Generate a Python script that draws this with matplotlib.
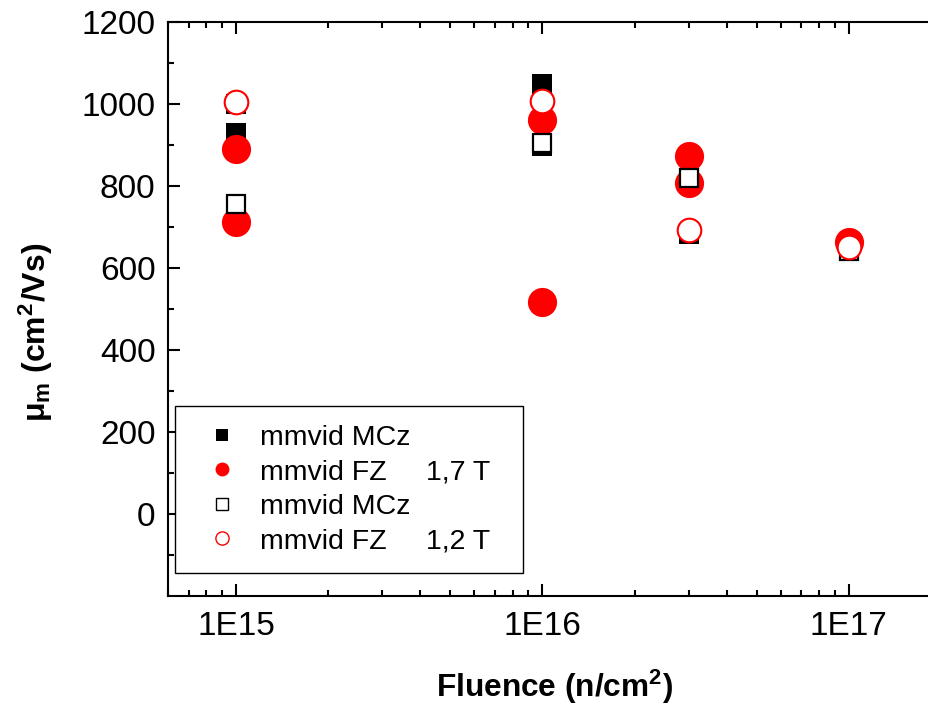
import matplotlib
matplotlib.use("Agg")
import matplotlib.pyplot as plt
from matplotlib.lines import Line2D

plt.rcParams['font.family'] = ['Liberation Sans', 'DejaVu Sans']
plt.rcParams['mathtext.fontset'] = 'custom'
plt.rcParams['mathtext.rm'] = 'Liberation Sans'
plt.rcParams['mathtext.bf'] = 'Liberation Sans:bold'
plt.rcParams['mathtext.it'] = 'Liberation Sans:italic'

# Data
mcz17_x = [1e15, 1e15, 1e16, 1e16, 3e16]
mcz17_y = [1000, 930, 1050, 898, 682]
fz17_x = [1e15, 1e15, 1e16, 1e16, 3e16, 3e16, 1e17]
fz17_y = [890, 713, 960, 518, 872, 808, 663]
mcz12_x = [1e15, 1e16, 3e16, 1e17]
mcz12_y = [757, 905, 819, 641]
fz12_x = [1e15, 1e16, 3e16, 1e17]
fz12_y = [1004, 1008, 693, 651]

labels = ["mmvid MCz", "mmvid FZ     1,7 T", "mmvid MCz", "mmvid FZ     1,2 T"]
yticks = [0, 200, 400, 600, 800, 1000, 1200]
xticks = [1e15, 1e16, 1e17]
xticklabels = ["1E15", "1E16", "1E17"]

fig = plt.figure(figsize=(9.29, 7.05), dpi=100)
ax = fig.add_axes([168/929, 1-596/705, (941-168)/929, (596-22)/705])

ax.plot(mcz17_x, mcz17_y, ls='none', marker='s', ms=15, mfc='black', mec='black', mew=0)
ax.plot(fz17_x, fz17_y, ls='none', marker='o', ms=21, mfc='red', mec='red', mew=0)
ax.plot(mcz12_x, mcz12_y, ls='none', marker='s', ms=13.5, mfc='white', mec='black', mew=1.6)
ax.plot(fz12_x, fz12_y, ls='none', marker='o', ms=17, mfc='white', mec='red', mew=1.5)

ax.set_xscale('log')
ax.set_xlim(6e14, 2e17)
ax.set_ylim(-200, 1200)
ax.set_xticks(xticks)
ax.set_xticklabels(xticklabels)
ax.set_yticks(yticks)
ax.set_yticks(list(range(-100, 1200, 200)), minor=True)

for s in ['left', 'bottom', 'top']:
    ax.spines[s].set_linewidth(1.5)
ax.spines['right'].set_visible(False)

ax.tick_params(which='both', direction='in', top=True, right=False, width=1.5)
ax.tick_params(which='major', length=8.5, labelsize=24)
ax.tick_params(which='minor', length=4.5)
ax.tick_params(axis='y', which='major', pad=9)
ax.tick_params(axis='x', which='major', pad=11)

ax.set_xlabel(r"Fluence (n/cm$^{\mathbf{2}}$)", fontsize=22.8, fontweight='bold')
ax.set_ylabel(r"$\mathbf{\mu_m}$ (cm$^{\mathbf{2}}$/Vs)", fontsize=23, fontweight='bold')
ax.xaxis.set_label_coords(0.5, -0.125)
ax.yaxis.set_label_coords(-0.146, 0.46)

handles = [
    Line2D([], [], ls='none', marker='s', ms=9, mfc='black', mec='black', mew=0),
    Line2D([], [], ls='none', marker='o', ms=10, mfc='red', mec='red', mew=0),
    Line2D([], [], ls='none', marker='s', ms=8.5, mfc='white', mec='black', mew=1),
    Line2D([], [], ls='none', marker='o', ms=9.5, mfc='white', mec='red', mew=1),
]
leg = ax.legend(handles, labels, loc='upper left',
                bbox_to_anchor=(7/773, 0.047, 0.450, 0.284), mode='expand',
                borderaxespad=0, fontsize=20.5, frameon=True, fancybox=False,
                edgecolor='black', framealpha=1, borderpad=0.65, labelspacing=0.3,
                handlelength=2.0, handletextpad=0.35)
leg.get_frame().set_linewidth(1.0)

fig.savefig("out.png", dpi=100)
